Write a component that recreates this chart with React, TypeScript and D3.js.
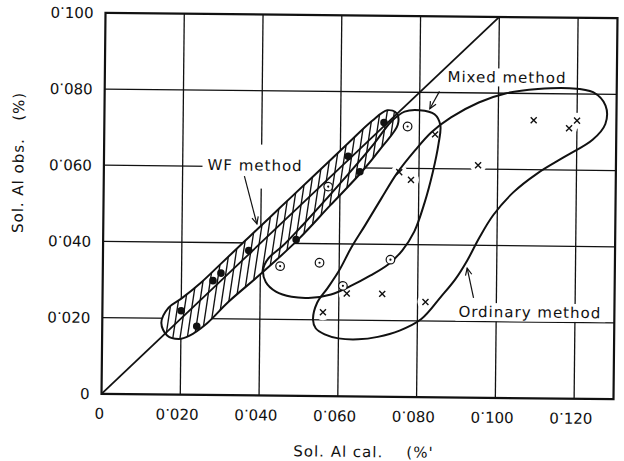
import React from "react";
import * as d3 from "d3";

// Axis ticks
const xTickValues = [0, 0.02, 0.04, 0.06, 0.08, 0.1, 0.12];
const xTickLabels = ["0", "0·020", "0·040", "0·060", "0·080", "0·100", "0·120"];
const yTickValues = [0, 0.02, 0.04, 0.06, 0.08, 0.1];
const yTickLabels = ["0", "0·020", "0·040", "0·060", "0·080", "0·100"];
const gridX = [0.02, 0.04, 0.06, 0.08, 0.1, 0.12];
const gridY = [0.02, 0.04, 0.06, 0.08];

// WF method (filled dots): Sol. Al cal. vs Sol. Al obs.
const wfCal = [0.020, 0.024, 0.028, 0.030, 0.037, 0.049, 0.062, 0.065, 0.071];
const wfObs = [0.022, 0.018, 0.030, 0.032, 0.038, 0.041, 0.063, 0.059, 0.072];

// Mixed method (dotted circles)
const mixedCal = [0.045, 0.055, 0.057, 0.061, 0.073, 0.077];
const mixedObs = [0.034, 0.035, 0.055, 0.029, 0.036, 0.071];

// Ordinary method (crosses)
const ordinaryCal = [0.056, 0.062, 0.071, 0.082, 0.075, 0.078, 0.084, 0.095, 0.109, 0.118, 0.120];
const ordinaryObs = [0.022, 0.027, 0.027, 0.025, 0.059, 0.057, 0.069, 0.061, 0.073, 0.071, 0.073];

// Hand-drawn envelopes around each group, [cal, obs]
const wfOutline = [
  [0.0150, 0.0188], [0.0168, 0.0228], [0.0200, 0.0252], [0.0250, 0.0295], [0.0300, 0.0345],
  [0.0370, 0.0415], [0.0450, 0.0495], [0.0530, 0.0575], [0.0620, 0.0665], [0.0680, 0.0724],
  [0.0718, 0.0752], [0.0742, 0.0744], [0.0745, 0.0714], [0.0705, 0.0655], [0.0655, 0.0590],
  [0.0575, 0.0500], [0.0495, 0.0410], [0.0400, 0.0318], [0.0320, 0.0245], [0.0264, 0.0186],
  [0.0222, 0.0155], [0.0195, 0.0146], [0.0165, 0.0155],
];
const mixedOutline = [
  [0.0800, 0.0753], [0.0838, 0.0743], [0.0853, 0.0715], [0.0849, 0.0665], [0.0835, 0.0590],
  [0.0815, 0.0510], [0.0790, 0.0435], [0.0760, 0.0385], [0.0725, 0.0348], [0.0680, 0.0318],
  [0.0630, 0.0290], [0.0580, 0.0267], [0.0530, 0.0258], [0.0480, 0.0260], [0.0440, 0.0273],
  [0.0414, 0.0298], [0.0407, 0.0330], [0.0420, 0.0360], [0.0455, 0.0392], [0.0506, 0.0448],
  [0.0566, 0.0518], [0.0626, 0.0590], [0.0686, 0.0665], [0.0728, 0.0722], [0.0762, 0.0749],
];
const ordinaryOutline = [
  [0.0535, 0.0200], [0.0545, 0.0245], [0.0572, 0.0285], [0.0600, 0.0330], [0.0630, 0.0390],
  [0.0665, 0.0450], [0.0705, 0.0520], [0.0745, 0.0588], [0.0790, 0.0648], [0.0830, 0.0695],
  [0.0880, 0.0735], [0.0950, 0.0775], [0.1020, 0.0800], [0.1100, 0.0812], [0.1180, 0.0815],
  [0.1240, 0.0805], [0.1272, 0.0770], [0.1272, 0.0722], [0.1240, 0.0680], [0.1170, 0.0635],
  [0.1100, 0.0590], [0.1040, 0.0540], [0.0990, 0.0480], [0.0955, 0.0420], [0.0925, 0.0360],
  [0.0895, 0.0310], [0.0860, 0.0265], [0.0810, 0.0205], [0.0755, 0.0174], [0.0700, 0.0157],
  [0.0650, 0.0150], [0.0600, 0.0152], [0.0565, 0.0162], [0.0542, 0.0178],
];

// Annotation labels and their leader lines (data units)
const labelNames = ["WF method", "Mixed method", "Ordinary method"];
const labelAnchors = [[0.0263, 0.0590], [0.0870, 0.0828], [0.0904, 0.0212]];
const leaderStarts = [[0.0357, 0.0575], [0.0850, 0.0803], [0.0942, 0.0262]];
const leaderEnds = [[0.0390, 0.0450], [0.0826, 0.0757], [0.0925, 0.0340]];

const xTitle = "Sol. Al cal.    (%'";
const yTitle = "Sol. Al obs.   (%)";

const W = 624;
const H = 461;
const frame = { left: 103.5, top: 15.5, width: 512, height: 381 };
const tilt = 0.6;
const font = "'DejaVu Sans', sans-serif";
const ink = "#111";

function TickText({ label, ...rest }: any) {
  const parts = label.split("·");
  if (parts.length < 2) return <text {...rest}>{label}</text>;
  return (
    <text {...rest}>
      {parts[0]}
      <tspan dy={-4.5}>·</tspan>
      <tspan dy={4.5}>{parts[1]}</tspan>
    </text>
  );
}

export default function App() {
  const x = d3.scaleLinear().domain([0, 0.13]).range([frame.left, frame.left + frame.width]);
  const y = d3.scaleLinear().domain([0, 0.1]).range([frame.top + frame.height, frame.top]);
  const cx = frame.left + frame.width / 2;
  const cy = frame.top + frame.height / 2;
  const bottom = frame.top + frame.height;
  const right = frame.left + frame.width;

  const outline = d3
    .line<number[]>()
    .x((d) => x(d[0]))
    .y((d) => y(d[1]))
    .curve(d3.curveCatmullRomClosed.alpha(0.5));

  const wfPath = outline(wfOutline) || "";
  const mixedPath = outline(mixedOutline) || "";
  const ordinaryPath = outline(ordinaryOutline) || "";

  const [hx0, hx1] = d3.extent(wfOutline, (d) => d[0]) as [number, number];
  const [hy0, hy1] = d3.extent(wfOutline, (d) => d[1]) as [number, number];
  const hatchTop = y(hy1) - 4;
  const hatchBottom = y(hy0) + 4;
  const lean = (hatchBottom - hatchTop) * 0.14;
  const hatchXs = d3.range(x(hx0) - lean - 6, x(hx1) + 6, 7.2);

  const wf = wfCal.map((c, i) => [c, wfObs[i]]);
  const mixed = mixedCal.map((c, i) => [c, mixedObs[i]]);
  const ordinary = ordinaryCal.map((c, i) => [c, ordinaryObs[i]]);

  const labelBg = [
    { dx: -5, dy: -26, w: 133, h: 44 },
    { dx: -3, dy: -14, w: 124, h: 18 },
    { dx: -3, dy: -14, w: 150, h: 18 },
  ];

  return (
    <div style={{ position: "absolute", left: 0, top: 0, width: W, height: H, background: "#fff" }}>
      <svg width={W} height={H} viewBox={`0 0 ${W} ${H}`} style={{ display: "block" }}>
        <defs>
          <clipPath id="wf-clip">
            <path d={wfPath} />
          </clipPath>
          <marker id="arrow-open" viewBox="-9 -5 10 10" refX={0} refY={0} markerWidth={10} markerHeight={10}
            markerUnits="userSpaceOnUse" orient="auto">
            <path d="M-7,-3.2 L0,0 L-7,3.2" fill="none" stroke={ink} strokeWidth={1.2} />
          </marker>
        </defs>
        <rect width={W} height={H} fill="#fff" />
        <g transform={`rotate(${tilt} ${cx} ${cy})`}>
          {/* grid */}
          <g stroke={ink} strokeWidth={1.3}>
            {gridX.map((v) => (
              <line key={`gx${v}`} x1={x(v)} x2={x(v)} y1={frame.top} y2={bottom} />
            ))}
            {gridY.map((v) => (
              <line key={`gy${v}`} x1={frame.left} x2={right} y1={y(v)} y2={y(v)} />
            ))}
          </g>

          {/* white gaps behind labels and crosses */}
          {labelNames.map((n, i) => (
            <rect key={`bg${n}`} x={x(labelAnchors[i][0]) + labelBg[i].dx} y={y(labelAnchors[i][1]) + labelBg[i].dy}
              width={labelBg[i].w} height={labelBg[i].h} fill="#fff" />
          ))}
          {ordinary.map((d, i) => (
            <circle key={`oc${i}`} cx={x(d[0])} cy={y(d[1])} r={8} fill="#fff" />
          ))}

          {/* WF band: white fill with vertical hatching */}
          <path d={wfPath} fill="#fff" />
          <g clipPath="url(#wf-clip)" stroke={ink} strokeWidth={1.35}>
            {hatchXs.map((hx, i) => (
              <line key={`h${i}`} x1={hx} y1={hatchBottom} x2={hx + lean} y2={hatchTop} />
            ))}
          </g>

          {/* envelopes */}
          <g fill="none" stroke={ink} strokeWidth={2}>
            <path d={ordinaryPath} />
            <path d={mixedPath} />
            <path d={wfPath} />
          </g>

          {/* obs = cal line */}
          <line x1={x(0)} y1={y(0)} x2={x(0.1)} y2={y(0.1)} stroke={ink} strokeWidth={1.8} />

          {/* frame */}
          <rect x={frame.left} y={frame.top} width={frame.width} height={frame.height} fill="none" stroke={ink} strokeWidth={2.2} />

          {/* markers */}
          {wf.map((d, i) => (
            <circle key={`w${i}`} cx={x(d[0])} cy={y(d[1])} r={3.8} fill={ink} />
          ))}
          {mixed.map((d, i) => (
            <g key={`m${i}`}>
              <circle cx={x(d[0])} cy={y(d[1])} r={4.3} fill="#fff" stroke={ink} strokeWidth={1.2} />
              <circle cx={x(d[0])} cy={y(d[1])} r={1.1} fill={ink} />
            </g>
          ))}
          {ordinary.map((d, i) => {
            const px = x(d[0]);
            const py = y(d[1]);
            const s = 3;
            return (
              <path key={`o${i}`} d={`M${px - s},${py - s}L${px + s},${py + s}M${px - s},${py + s}L${px + s},${py - s}`}
                stroke={ink} strokeWidth={1.4} fill="none" />
            );
          })}

          {/* labels */}
          {labelNames.map((n, i) => (
            <text key={n} x={x(labelAnchors[i][0])} y={y(labelAnchors[i][1])} fontFamily={font} fontSize={15}
              letterSpacing={1} fill={ink}>
              {n}
            </text>
          ))}
          {labelNames.map((n, i) => (
            <line key={`l${n}`} x1={x(leaderStarts[i][0])} y1={y(leaderStarts[i][1])} x2={x(leaderEnds[i][0])}
              y2={y(leaderEnds[i][1])} stroke={ink} strokeWidth={1.2} markerEnd="url(#arrow-open)" />
          ))}

          {/* tick labels */}
          {xTickValues.map((v, i) => (
            <TickText key={`xt${v}`} label={xTickLabels[i]} x={v === 0 ? x(v) - 2 : x(v) - 3} y={bottom + 25}
              textAnchor="middle" fontFamily={font} fontSize={15} fill={ink} />
          ))}
          {yTickValues.map((v, i) => (
            <TickText key={`yt${v}`} label={yTickLabels[i]} x={frame.left - 12} y={y(v) + 5.5}
              textAnchor="end" fontFamily={font} fontSize={15} fill={ink} />
          ))}

          {/* axis titles */}
          <text x={366} y={457} textAnchor="middle" fontFamily={font} fontSize={15} letterSpacing={1} fill={ink}
            style={{ whiteSpace: "pre" }}>
            {xTitle}
          </text>
          <text transform="translate(23,166) rotate(-90)" textAnchor="middle" fontFamily={font} fontSize={15}
            letterSpacing={1} fill={ink} style={{ whiteSpace: "pre" }}>
            {yTitle}
          </text>
        </g>
      </svg>
    </div>
  );
}
